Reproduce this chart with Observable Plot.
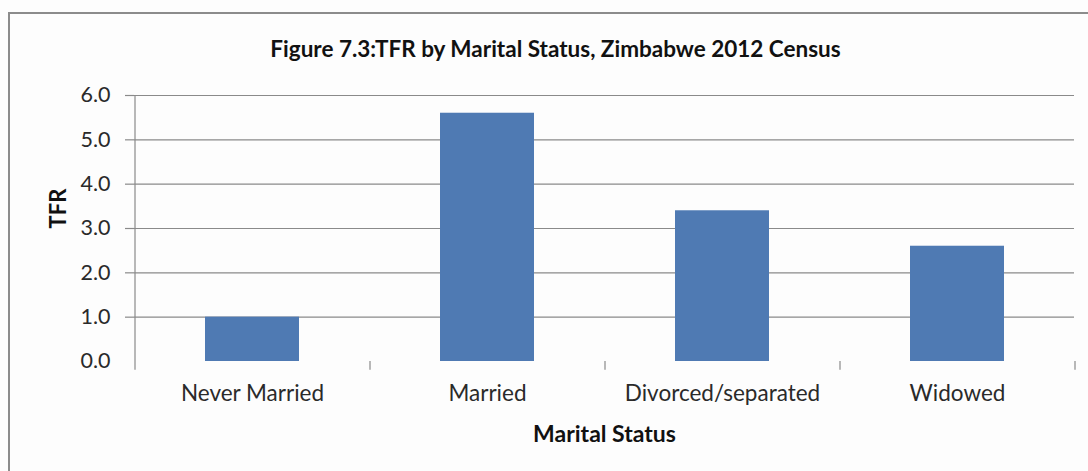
<!DOCTYPE html>
<html>
<head>
<meta charset="utf-8">
<script src="https://cdn.jsdelivr.net/npm/d3@7"></script>
<script src="https://cdn.jsdelivr.net/npm/@observablehq/plot@0.6"></script>
<style>
  html, body { margin: 0; padding: 0; background: #ffffff; overflow: hidden; }
  #wrap { position: relative; width: 1088px; height: 471px; overflow: hidden; background: #fdfdfd; }
  #border { position: absolute; left: 8px; top: 12px; width: 1200px; height: 600px; border: 2px solid #8c8c8c; box-sizing: border-box; }
  #chart { position: absolute; left: 0; top: 0; }
</style>
</head>
<body>
<div id="wrap">
  <div id="border"></div>
  <div id="chart"></div>
</div>
<script>
const categories = ["Never Married", "Married", "Divorced/separated", "Widowed"];
const tfr = [1.0, 5.6, 3.4, 2.6];
const yTicks = [0, 1, 2, 3, 4, 5, 6];
const gridValues = [1, 2, 3, 4, 5, 6];
const titleText = "Figure 7.3:TFR by Marital Status, Zimbabwe 2012 Census";
const xLabel = "Marital Status";
const yLabel = "TFR";

const data = categories.map((c, i) => ({category: c, value: tfr[i]}));

const W = 1088, H = 471;
const mL = 134, mR = 14, mT = 95, mB = 110;
const step = (W - mL - mR) / categories.length;
const font = "Lato, 'Open Sans', sans-serif";

const plot = Plot.plot({
  width: W,
  height: H,
  marginLeft: mL,
  marginRight: mR,
  marginTop: mT,
  marginBottom: mB,
  style: {fontFamily: font, background: "transparent", color: "#222"},
  x: {domain: categories, paddingInner: 0.6, paddingOuter: 0.3, axis: null},
  y: {domain: [0, 6], axis: null},
  marks: [
    Plot.ruleY(gridValues, {stroke: "#8a8a8a", strokeWidth: 1.2}),
    Plot.axisY({ticks: gridValues, tickSize: 9, text: null, stroke: "#8a8a8a", strokeWidth: 1.2, label: null}),
    Plot.axisY({ticks: yTicks, tickSize: 0, tickPadding: 24, tickFormat: d3.format(".1f"), fontSize: 21.5, fill: "#2a2a2a", label: null}),
    // category boundary ticks and vertical axis line
    Plot.ruleX(categories, {x: d => d, dx: -step / 2, y1: -0.2, y2: (d, i) => i === 0 ? 6 : 0, stroke: "#8a8a8a", strokeWidth: 1.2}),
    Plot.ruleX([categories[categories.length - 1]], {x: d => d, dx: step / 2, y1: -0.2, y2: 0, stroke: "#8a8a8a", strokeWidth: 1.2}),
    Plot.barY(data, {x: "category", y: "value", fill: "#4f7ab3"}),
    Plot.axisX({tickSize: 0, tickPadding: 24, fontSize: 22.5, fill: "#2a2a2a", label: null}),
    Plot.text([xLabel], {frameAnchor: "bottom", dy: 73, fontSize: 23, fontWeight: "bold", fill: "#111", lineAnchor: "middle"}),
    Plot.text([yLabel], {frameAnchor: "left", dx: -76, rotate: -90, fontSize: 22, fontWeight: "bold", fill: "#111", lineAnchor: "middle"}),
    Plot.text([titleText], {frameAnchor: "top", dx: -49, dy: -46, fontSize: 22.5, fontWeight: "bold", fill: "#111", lineAnchor: "middle"})
  ]
});
document.getElementById("chart").appendChild(plot);
</script>
</body>
</html>
